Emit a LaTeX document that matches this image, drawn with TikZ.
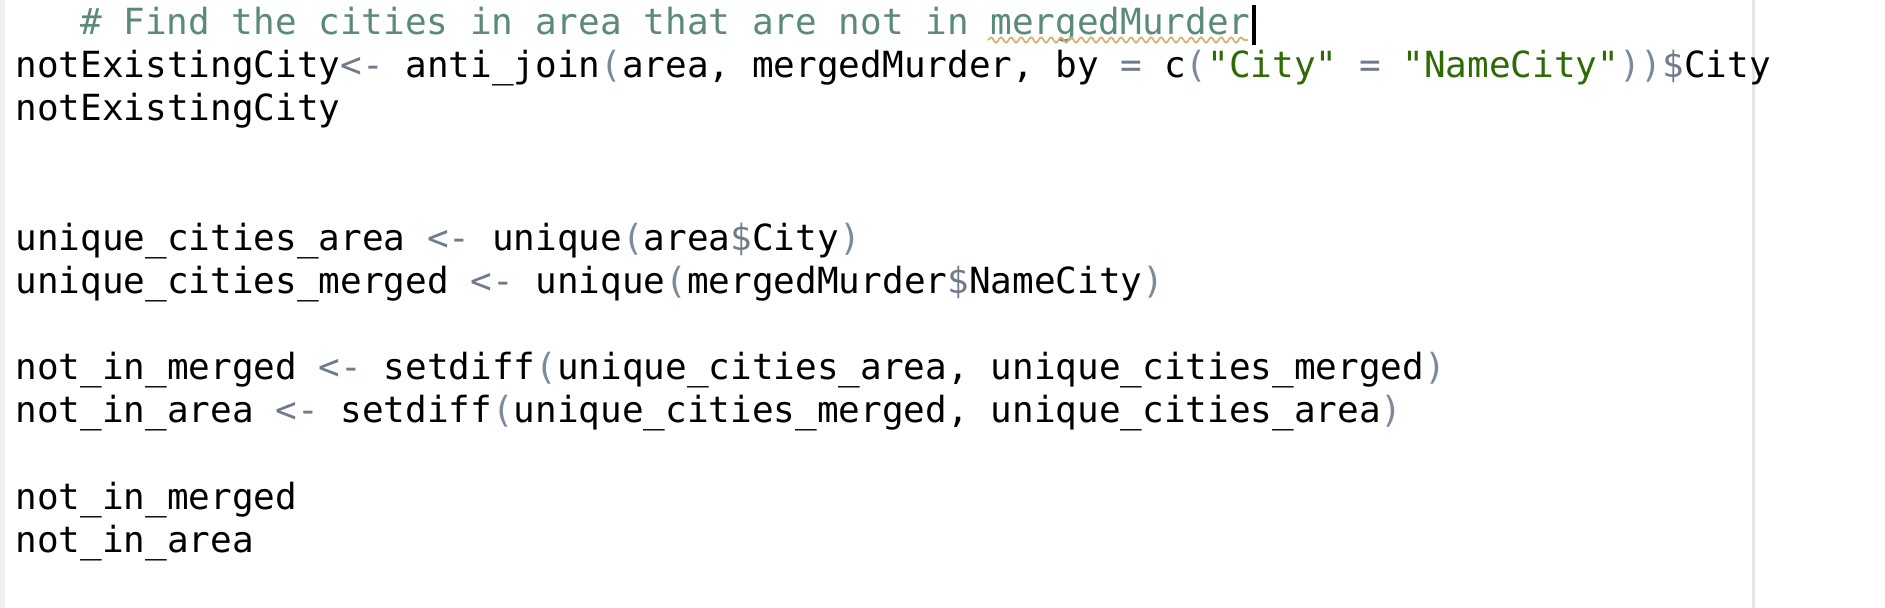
\documentclass[tikz,border=0pt]{standalone}
\usepackage{fontspec}
\setmonofont{DejaVu Sans Mono}
\usetikzlibrary{decorations.pathmorphing}

\definecolor{cmtgreen}{HTML}{5B8A76}
\definecolor{strgreen}{HTML}{2E6B05}
\definecolor{opgray}{HTML}{6F7B8C}
\definecolor{pargray}{HTML}{7D8A9B}
\definecolor{squiggle}{HTML}{D6B46E}

\newcommand{\rop}[1]{\textcolor{opgray}{#1}}
\newcommand{\rpar}[1]{\textcolor{pargray}{#1}}
\newcommand{\rstr}[1]{\textcolor{strgreen}{#1}}

\tikzset{
  codeline/.style={anchor=base west, inner sep=0pt, font=\ttfamily\fontsize{18}{20}\selectfont},
  comment/.style={codeline, text=cmtgreen}
}

\begin{document}
\begin{tikzpicture}[x=0.5pt,y=-0.5pt]
\useasboundingbox (0,0) rectangle (1885,608);
\fill[white] (0,0) rectangle (1885,608);
\fill[gray!12] (0,0) rectangle (5,608);
\fill[gray!20] (1752,0) rectangle (1755,608);

\node[comment] (cmt) at (79.8,34.5) {\# Find the cities in area that are not in mergedMurder};
\draw[squiggle, line width=0.9pt, decorate, decoration={snake, amplitude=1.3pt, segment length=5pt}] (988,40) -- (1248,40);
\fill[black] (1252,5) rectangle (1256,45);

\node[codeline] (antijoin) at (15,77.65) {notExistingCity\rop{<-} anti\_join\rpar{(}area, mergedMurder, by \rop{=} c\rpar{(}\rstr{"City"} \rop{=} \rstr{"NameCity"}\rpar{))}\rop{\$}City};
\node[codeline] (showcity) at (15,120.8) {notExistingCity};

\node[codeline] (uarea) at (15,250.25) {unique\_cities\_area \rop{<-} unique\rpar{(}area\rop{\$}City\rpar{)}};
\node[codeline] (umerged) at (15,293.4) {unique\_cities\_merged \rop{<-} unique\rpar{(}mergedMurder\rop{\$}NameCity\rpar{)}};

\node[codeline] (nimerged) at (15,379.7) {not\_in\_merged \rop{<-} setdiff\rpar{(}unique\_cities\_area, unique\_cities\_merged\rpar{)}};
\node[codeline] (niarea) at (15,422.85) {not\_in\_area \rop{<-} setdiff\rpar{(}unique\_cities\_merged, unique\_cities\_area\rpar{)}};

\node[codeline] (shmerged) at (15,509.15) {not\_in\_merged};
\node[codeline] (sharea) at (15,552.3) {not\_in\_area};

\end{tikzpicture}
\end{document}
